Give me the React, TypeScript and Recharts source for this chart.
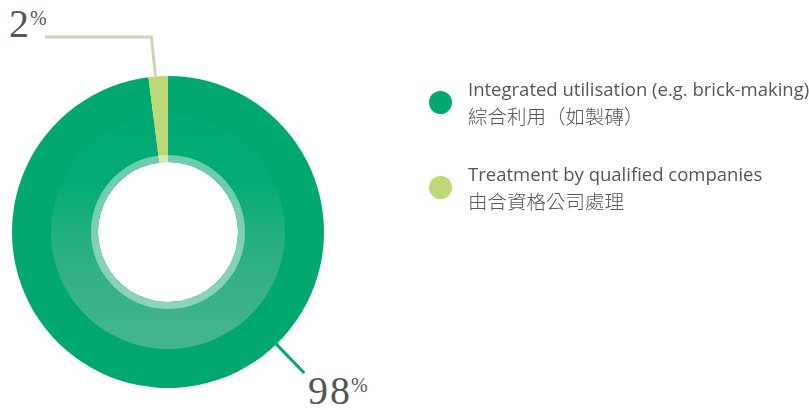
import { PieChart, Pie, Cell, Legend } from "recharts";

const categories = ["Integrated utilisation (e.g. brick-making)", "Treatment by qualified companies"];
const categoriesZh = ["綜合利用（如製磚）", "由合資格公司處理"];
const shares = [98, 2];
const colors = ["#00A870", "#BDD977"];

const data = categories.map((name, i) => ({ name, zh: categoriesZh[i], value: shares[i] }));
const ringData = [{ name: "ring", value: 1 }];

const RAD = Math.PI / 180;
const polar = (cx: number, cy: number, r: number, angle: number) => ({
  x: cx + r * Math.cos(-angle * RAD),
  y: cy + r * Math.sin(-angle * RAD),
});

const numStyle = { fontFamily: "'Liberation Serif', serif", fill: "#555" };

// big number with a small raised percent sign, as one text element
const PercentText = ({ x, y, value }: { x: number; y: number; value: number }) => (
  <text x={x} y={y} style={numStyle} fontSize={40}>
    <tspan letterSpacing={2}>{value}</tspan>
    <tspan fontSize={20} dx={-1} dy={-12}>
      %
    </tspan>
  </text>
);

function renderLabel(props: any) {
  const { cx, cy, outerRadius, midAngle, index, value } = props;
  if (index === 1) {
    const s = polar(cx, cy, outerRadius + 1, midAngle + 1);
    const cornerY = cy - 195;
    const cornerX = s.x - 4;
    return (
      <g>
        <polyline
          points={`${s.x},${s.y} ${cornerX},${cornerY} ${cx - 122},${cornerY}`}
          fill="none"
          stroke="#CDD5B5"
          strokeWidth={3}
          strokeLinecap="round"
        />
        <PercentText x={cx - 159} y={cy - 195} value={value} />
      </g>
    );
  }
  const a = polar(cx, cy, outerRadius - 6, -46);
  const b = polar(cx, cy, outerRadius + 39, -46);
  return (
    <g>
      <line x1={a.x} y1={a.y} x2={b.x} y2={b.y} stroke={colors[0]} strokeWidth={3} strokeLinecap="round" />
      <PercentText x={cx + 140} y={cy + 172} value={value} />
    </g>
  );
}

function renderLegend() {
  return (
    <div>
      {data.map((d, i) => (
        <div key={d.name} style={{ display: "flex", alignItems: "center", marginBottom: 31 }}>
          <span
            style={{
              width: 23,
              height: 23,
              borderRadius: "50%",
              background: colors[i],
              marginRight: 16,
              flexShrink: 0,
            }}
          />
          <div style={{ color: "#555", lineHeight: "27px", whiteSpace: "nowrap" }}>
            <div style={{ fontFamily: "'Open Sans', sans-serif", fontSize: 18.5 }}>{d.name}</div>
            <div style={{ fontFamily: "'Noto Sans CJK TC', sans-serif", fontSize: 19.5, fontWeight: 300 }}>
              {d.zh}
            </div>
          </div>
        </div>
      ))}
    </div>
  );
}

export default function App() {
  return (
    <div style={{ position: "fixed", left: 0, top: 0, width: 809, height: 410, background: "#fff" }}>
      <PieChart width={809} height={410} margin={{ top: 0, right: 0, bottom: 0, left: 0 }}>
        <defs>
          <linearGradient id="bandGrad" x1="0" y1="0" x2="0" y2="1">
            <stop offset="0%" stopColor="#00AA74" />
            <stop offset="30%" stopColor="#05AB76" />
            <stop offset="60%" stopColor="#2DB083" />
            <stop offset="100%" stopColor="#46B58C" />
          </linearGradient>
        </defs>
        <Pie
          data={data}
          dataKey="value"
          nameKey="name"
          cx={168}
          cy={232}
          innerRadius={70}
          outerRadius={156}
          startAngle={90}
          endAngle={-270}
          stroke="none"
          label={renderLabel}
          labelLine={false}
          isAnimationActive={false}
        >
          {data.map((d, i) => (
            <Cell key={d.name} fill={colors[i]} />
          ))}
        </Pie>
        <Pie
          data={data}
          dataKey="value"
          nameKey="name"
          cx={168}
          cy={232}
          innerRadius={70}
          outerRadius={117}
          startAngle={90}
          endAngle={-270}
          stroke="none"
          legendType="none"
          isAnimationActive={false}
        >
          {data.map((d, i) => (
            <Cell key={d.name} fill={i === 0 ? "url(#bandGrad)" : colors[i]} />
          ))}
        </Pie>
        <Pie
          data={ringData}
          dataKey="value"
          cx={168}
          cy={232}
          innerRadius={70}
          outerRadius={77}
          startAngle={90}
          endAngle={-270}
          stroke="none"
          fill="#FFFFFF"
          fillOpacity={0.42}
          legendType="none"
          isAnimationActive={false}
        />
        <Legend
          layout="vertical"
          verticalAlign="top"
          align="right"
          content={renderLegend}
          wrapperStyle={{ left: 429, top: 75, width: 380 }}
        />
      </PieChart>
    </div>
  );
}
